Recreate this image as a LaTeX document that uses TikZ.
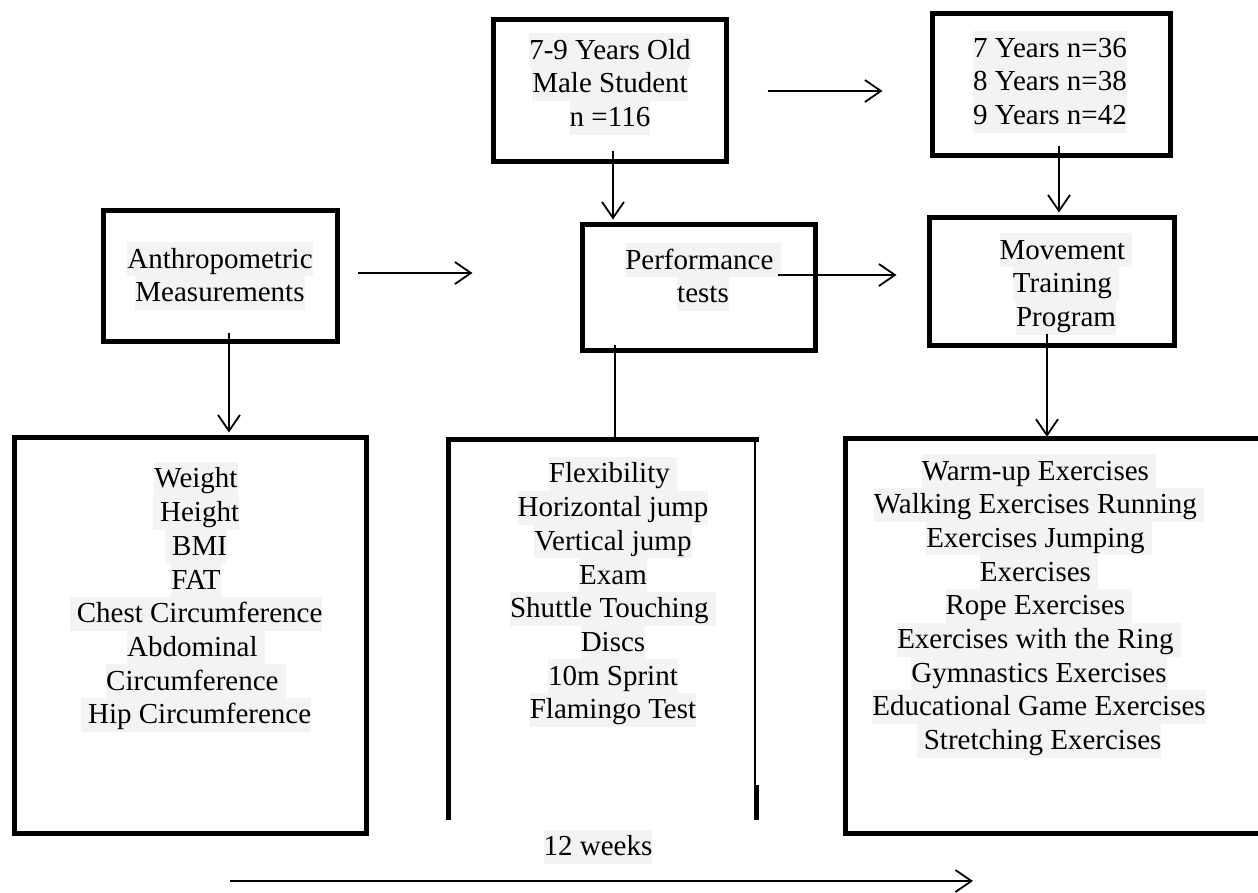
\documentclass[tikz,border=0pt]{standalone}
\usepackage{fontspec}
\setmainfont{Liberation Serif}
\usetikzlibrary{arrows.meta,calc}
\definecolor{hlgray}{HTML}{F3F3F3}
\newcommand{\hlbox}[1]{{\setlength{\fboxsep}{0pt}\colorbox{hlgray}{\rule[-8pt]{0pt}{33.7pt}#1}}}
\begin{document}
\begin{tikzpicture}[x=1pt,y=-1pt,
  box/.style={draw,line width=5pt,inner sep=0pt},
  ghost/.style={inner sep=0pt},
  txt/.style={inner sep=0pt,align=center,font=\fontsize{29}{33.7}\selectfont},
  arr/.style={line width=1.8pt,-{Straight Barb[length=16pt,width=22pt,line width=1.8pt]}},
  conn/.style={line width=1.8pt},
  thickline/.style={line width=5pt}]
\useasboundingbox[fill=white] (0,0) rectangle (1258,892);

% texts
\node[txt] (n116t) at (610,84) {\hlbox{7-9 Years Old}\\\hlbox{Male Student}\\\hlbox{n =116}};
\node[txt] (agest) at (1050,82) {\hlbox{7 Years n=36}\\\hlbox{8 Years n=38}\\\hlbox{9 Years n=42}};
\node[txt] (anthrot) at (220,276) {\hlbox{Anthropometric}\\\hlbox{Measurements}};
\node[txt] (perft) at (703,277) {\hlbox{Performance\ }\\\hlbox{tests}};
\node[txt] (movet) at (1066,284) {\hlbox{Movement\ }\\\hlbox{Training\ }\\\hlbox{Program}};
\node[txt] (anthrolt) at (196,597) {\hlbox{Weight}\\\hlbox{\ Height}\\\hlbox{\ BMI}\\\hlbox{FAT}\\\hlbox{\ Chest Circumference}\\\hlbox{Abdominal\ }\\\hlbox{Circumference\ }\\\hlbox{\ Hip Circumference}};
\node[txt] (perflt) at (613,592) {\hlbox{Flexibility\ }\\\hlbox{Horizontal jump}\\\hlbox{Vertical jump}\\\hlbox{Exam}\\\hlbox{Shuttle Touching\ }\\\hlbox{Discs}\\\hlbox{10m Sprint}\\\hlbox{Flamingo Test}};
\node[txt] (movelt) at (1039,606) {\hlbox{Warm-up Exercises\ }\\\hlbox{Walking Exercises Running\ }\\\hlbox{Exercises Jumping\ }\\\hlbox{Exercises\ }\\\hlbox{Rope Exercises\ }\\\hlbox{Exercises with the Ring\ }\\\hlbox{Gymnastics Exercises}\\\hlbox{Educational Game Exercises}\\\hlbox{\ Stretching Exercises}};
\node[txt] (weeks) at (598,847) {\hlbox{12 weeks}};

% boxes
\node[box,minimum width=233pt,minimum height=142pt] (n116) at (609.5,90) {};
\node[box,minimum width=238pt,minimum height=142pt] (ages) at (1051,84) {};
\node[box,minimum width=234pt,minimum height=131pt] (anthro) at (220,275.5) {};
\node[box,minimum width=233pt,minimum height=126pt] (perf) at (698.5,287) {};
\node[box,minimum width=245pt,minimum height=128pt] (move) at (1051.5,281) {};
\node[box,minimum width=352pt,minimum height=396pt] (anthrolist) at (190,635) {};

\node[ghost,minimum width=307pt,minimum height=380pt] (perflist) at (602.5,630) {};
\draw[thickline] (perflist.south west) -- (perflist.north west) -- ([xshift=2.5pt]perflist.north east);
\draw[line width=2pt] ([xshift=-1pt]perflist.north east) -- ([xshift=-1pt,yshift=35pt]perflist.south east);
\draw[thickline] ([yshift=35pt]perflist.south east) -- (perflist.south east);

\node[ghost,minimum width=414pt,minimum height=394pt] (movelist) at (1053,636) {};
\draw[thickline] (movelist.north east) -- (movelist.north west) -- (movelist.south west) -- (movelist.south east);

% connectors
\coordinate (s1) at ($(n116.south)+(3.5,-13)$);
\draw[arr] (s1) -- ($(s1 |- perf.north)+(0,-2)$);
\draw[arr] ($(n116.east)+(39,1)$) -- ($(ages.west)+(-47,7)$);
\coordinate (s3) at ($(ages.south)+(8,-12)$);
\draw[arr] (s3) -- ($(s3 |- move.north)+(0,-2)$);
\draw[arr] ($(anthro.east)+(18,-2.5)$) -- ($(perf.west)+(-107,-14)$);
\draw[arr] ($(perf.center)+(79.5,-12)$) -- ($(move.west)+(-30,-6)$);
\coordinate (s6) at ($(anthro.south)+(9,-11)$);
\draw[arr] (s6) -- ($(s6 |- anthrolist.north)+(0,-2)$);
\coordinate (s7) at ($(perf.south)+(-83.5,-8)$);
\draw[conn] (s7) -- (s7 |- perflist.north);
\coordinate (s8) at ($(move.south)+(-4.5,-14)$);
\draw[arr] (s8) -- ($(s8 |- movelist.north)+(0,-2)$);
\coordinate (t0) at (230,881);
\coordinate (t1) at (973,881);
\draw[arr] (t0) -- (t1);
\end{tikzpicture}
\end{document}
